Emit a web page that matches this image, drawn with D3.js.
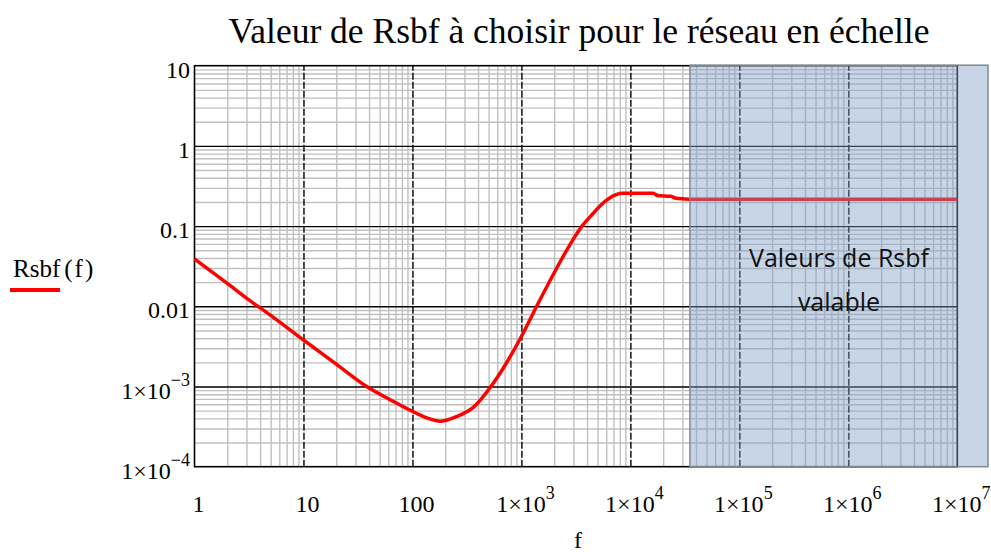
<!DOCTYPE html>
<html>
<head>
<meta charset="utf-8">
<script src="https://cdn.jsdelivr.net/npm/d3@7"></script>
<style>
  html, body { margin: 0; padding: 0; background: #fff; }
  svg { display: block; }
  .serif { font-family: "Liberation Serif", "Times New Roman", serif; }
</style>
</head>
<body>
<svg id="chart" width="991" height="552"></svg>
<script>
// Frequency samples (Hz) and the corresponding Rsbf values
const freq = [1, 2, 3.16, 5, 10, 20, 38, 63, 100, 140, 179, 251, 362, 552, 1000,
  1380, 2000, 2512, 3105, 3597, 4571, 5260, 6500, 7410, 8510, 12000, 16200, 17800,
  23400, 26300, 31600, 35200, 1e7];
const rsbf = [0.039, 0.0193, 0.012, 0.0077, 0.0038, 0.0019, 0.001, 0.00068, 0.00049,
  0.0004, 0.00037, 0.00042, 0.00055, 0.0011, 0.0042,
  0.01, 0.0262, 0.0459, 0.0745, 0.1, 0.1445, 0.178, 0.226, 0.247, 0.256, 0.257, 0.256, 0.24,
  0.235, 0.222, 0.218, 0.216, 0.216];

// Axis ticks: [mantissa text, exponent text]
const xTicks = [1, 10, 100, 1e3, 1e4, 1e5, 1e6, 1e7];
const xTickLabels = [["1", ""], ["10", ""], ["100", ""], ["1×10", "3"], ["1×10", "4"],
  ["1×10", "5"], ["1×10", "6"], ["1×10", "7"]];
const yTicks = [1e-4, 1e-3, 0.01, 0.1, 1, 10];
const yTickLabels = [["1×10", "−4"], ["1×10", "−3"], ["0.01", ""], ["0.1", ""], ["1", ""], ["10", ""]];

// Frequency band highlighted as valid
const validBand = [35200, 1e7];

const titleText = "Valeur de Rsbf à choisir pour le réseau en échelle";
const legendParts = ["Rsbf", "(", "f", ")"];
const xTitle = "f";
const bandText = ["Valeurs de Rsbf", "valable"];

const svg = d3.select("#chart");
const L = 194.5, R = 957.3, T = 65.7, B = 466.7;

const x = d3.scaleLog().domain([1, 1e7]).range([L, R]);
const y = d3.scaleLog().domain([1e-4, 10]).range([B, T]);

// Minor grid values: 2..9 in each decade
const minorX = [];
for (let d = 0; d < 7; d++) for (let k = 2; k <= 9; k++) minorX.push(k * Math.pow(10, d));
const minorY = [];
for (let d = -4; d < 1; d++) for (let k = 2; k <= 9; k++) minorY.push(k * Math.pow(10, d));

const grid = svg.append("g");

// Minor vertical grid
grid.append("g")
  .attr("transform", `translate(0,${B})`)
  .call(d3.axisBottom(x).tickValues(minorX).tickSize(-(B - T)).tickFormat(""))
  .call(g => g.select(".domain").remove())
  .call(g => g.selectAll("line").attr("stroke", "#c0c0c0").attr("stroke-width", 1.4));

// Minor horizontal grid
grid.append("g")
  .attr("transform", `translate(${L},0)`)
  .call(d3.axisLeft(y).tickValues(minorY).tickSize(-(R - L)).tickFormat(""))
  .call(g => g.select(".domain").remove())
  .call(g => g.selectAll("line").attr("stroke", "#c0c0c0").attr("stroke-width", 1.4));

// Major vertical grid (dashed)
grid.append("g")
  .attr("transform", `translate(0,${B})`)
  .call(d3.axisBottom(x).tickValues(xTicks.slice(1, -1)).tickSize(-(B - T)).tickFormat(""))
  .call(g => g.select(".domain").remove())
  .call(g => g.selectAll("line").attr("stroke", "#000").attr("stroke-width", 1.4)
    .attr("stroke-dasharray", "7,2"));

// Major horizontal grid
grid.append("g")
  .attr("transform", `translate(${L},0)`)
  .call(d3.axisLeft(y).tickValues(yTicks.slice(1, -1)).tickSize(-(R - L)).tickFormat(""))
  .call(g => g.select(".domain").remove())
  .call(g => g.selectAll("line").attr("stroke", "#000").attr("stroke-width", 1.4));

// Plot frame
svg.append("rect")
  .attr("x", L).attr("y", T).attr("width", R - L).attr("height", B - T)
  .attr("fill", "none").attr("stroke", "#000").attr("stroke-width", 1.6);

// Rsbf(f) curve
const line = d3.line()
  .x((d, i) => x(freq[i]))
  .y((d, i) => y(rsbf[i]))
  .curve(d3.curveMonotoneX);
svg.append("path")
  .datum(freq)
  .attr("d", line)
  .attr("fill", "none")
  .attr("stroke", "#ff0000")
  .attr("stroke-width", 3.5)
  .attr("stroke-linejoin", "round");

// Highlighted band (extends past the right edge of the plot)
const bandX0 = x(validBand[0]);
svg.append("rect")
  .attr("x", bandX0).attr("y", T - 0.5)
  .attr("width", 988 - bandX0).attr("height", B - T + 0.5)
  .attr("fill", "rgb(128,158,198)").attr("fill-opacity", 0.43)
  .attr("stroke", "#808890").attr("stroke-width", 1.5);

// Band text
const bx = 839;
bandText.forEach((s, i) => {
  svg.append("text")
    .attr("x", bx).attr("y", i === 0 ? 267 : 311)
    .attr("text-anchor", "middle")
    .attr("font-family", "'Open Sans', 'Liberation Sans', sans-serif")
    .attr("font-size", 25).attr("fill", "#111")
    .text(s);
});

// Tick labels with superscript exponents
function addLabel(g, xPos, yPos, lab, anchor) {
  const t = g.append("text")
    .attr("class", "serif")
    .attr("x", xPos).attr("y", yPos)
    .attr("text-anchor", anchor)
    .attr("font-size", 24).attr("fill", "#000");
  t.append("tspan").text(lab[0]);
  if (lab[1]) {
    t.append("tspan").attr("dy", -13).attr("font-size", 18).text(lab[1]);
  }
}

const xl = svg.append("g");
xTicks.forEach((v, i) => addLabel(xl, x(v) + 4, 512, xTickLabels[i], "middle"));

const yl = svg.append("g");
yTicks.forEach((v, i) => addLabel(yl, 190, y(v) + 12, yTickLabels[i], "end"));

// Title
svg.append("text").attr("class", "serif")
  .attr("x", 579).attr("y", 43)
  .attr("text-anchor", "middle")
  .attr("font-size", 35.5)
  .text(titleText);

// X axis title
svg.append("text").attr("class", "serif")
  .attr("x", 578).attr("y", 548)
  .attr("text-anchor", "middle")
  .attr("font-size", 24)
  .text(xTitle);

// Legend
const lg = svg.append("text").attr("class", "serif")
  .attr("x", 13).attr("y", 277)
  .attr("font-size", 25);
lg.append("tspan").text(legendParts[0]);
lg.append("tspan").attr("dx", 4).text(legendParts[1]);
lg.append("tspan").attr("dx", 2).text(legendParts[2]);
lg.append("tspan").attr("dx", 2).text(legendParts[3]);
svg.append("line")
  .attr("x1", 10).attr("x2", 60).attr("y1", 290).attr("y2", 290)
  .attr("stroke", "#ff0000").attr("stroke-width", 4);
</script>
</body>
</html>
